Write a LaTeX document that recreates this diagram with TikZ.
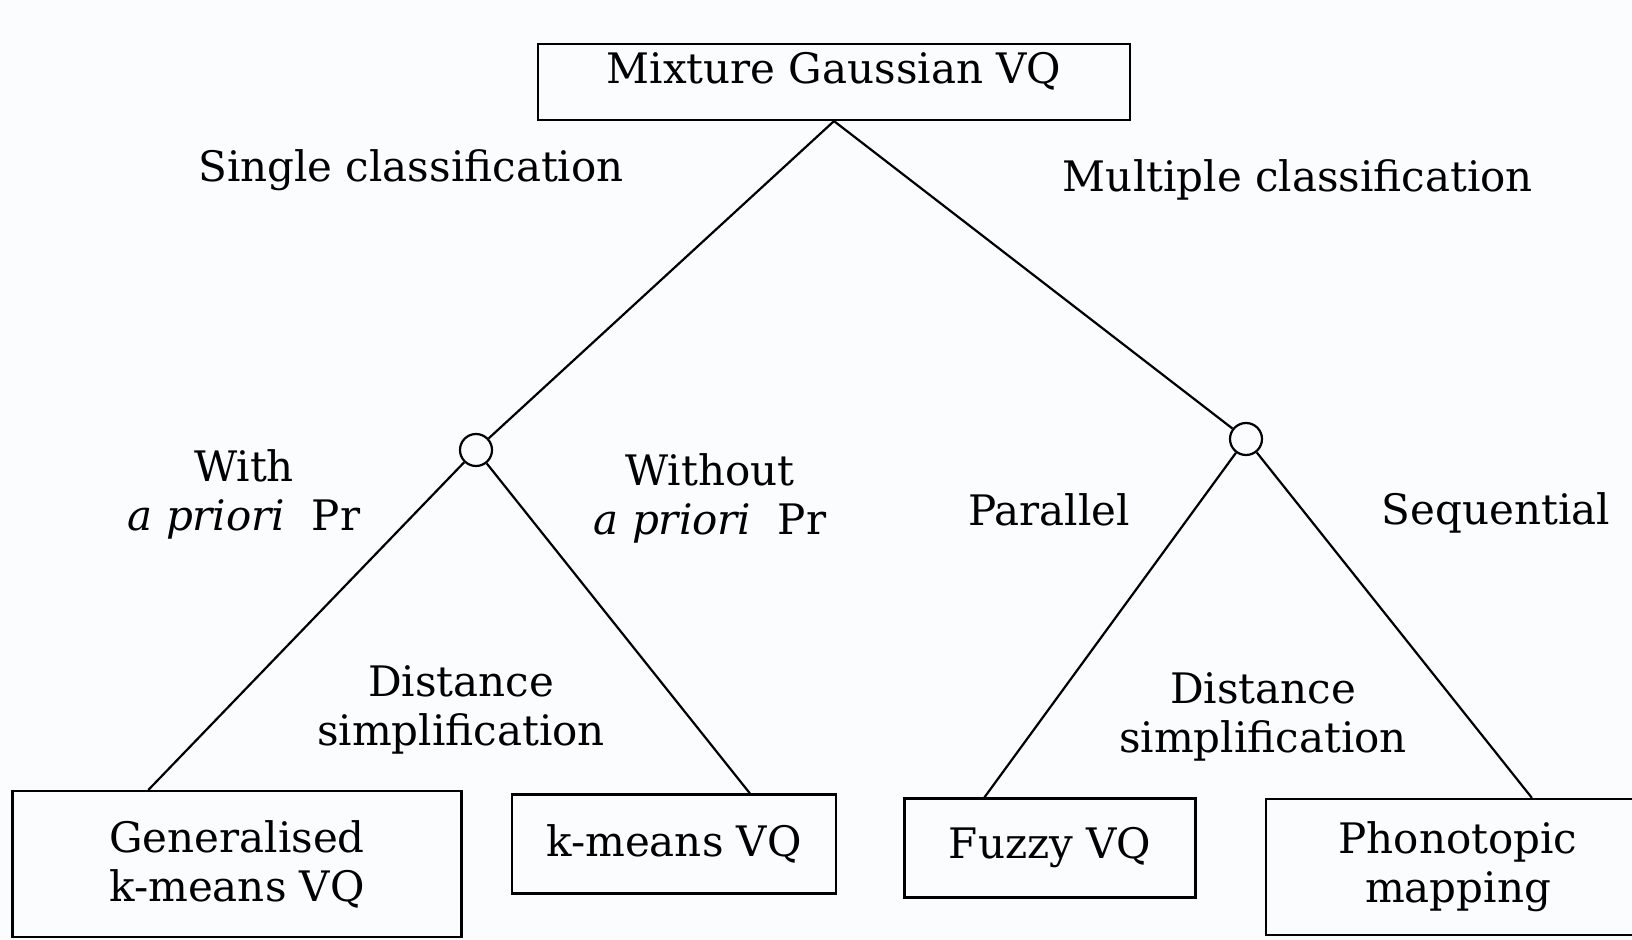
\documentclass[tikz,border=0pt]{standalone}
\usepackage{fontspec}
\setmainfont{DejaVu Serif}

\definecolor{paper}{RGB}{250,252,253}

\begin{document}
\begin{tikzpicture}[x=0.5pt,y=-0.5pt,
	font=\fontsize{21}{24.5}\selectfont,
	box/.style={draw, line width=1.1pt, inner sep=0pt, align=center},
	fork/.style={draw, circle, line width=1.1pt, minimum size=16pt, inner sep=0pt},
	lbl/.style={align=center, inner sep=0pt},
	edge/.style={line width=1.1pt}]
		\fill[paper] (0,0) rectangle (1632,940);
		\useasboundingbox (0,0) rectangle (1632,940);
		% boxes
		\node[box, minimum width=296pt, minimum height=38pt, text depth=14pt] (mix) at (834,82) {Mixture Gaussian VQ};
		\node[box, minimum width=224.5pt, minimum height=73pt] (gen) at (237,864) {Generalised\\k-means VQ};
		\node[box, minimum width=162pt, minimum height=49.5pt] (kmv) at (674,844) {k-means VQ};
		\node[box, minimum width=145.5pt, minimum height=49.5pt] (fuz) at (1050,848) {Fuzzy VQ};
		\node[box, minimum width=192pt, minimum height=68pt] (pho) at (1458,867) {Phonotopic\\mapping};
		% branch points
		\node[fork] (cs) at (476,450) {};
		\node[fork] (cm) at (1246,439) {};
		% edges
		\draw[edge] (mix.south) -- (cs);
		\draw[edge] (mix.south) -- (cm);
		\draw[edge] (cs) -- ([xshift=68.5pt]gen.north west);
		\draw[edge] (cs) -- ([xshift=119.5pt]kmv.north west);
		\draw[edge] (cm) -- ([xshift=40.5pt]fuz.north west);
		\draw[edge] (cm) -- ([xshift=133.5pt]pho.north west);
		% labels
		\node[lbl] (tsingle) at (411,170) {Single classification};
		\node[lbl] (tmulti) at (1298,180) {Multiple classification};
		\node[lbl] (twith) at (244,494) {With\\\textit{a priori}~~Pr};
		\node[lbl] (twithout) at (710,498) {Without\\\textit{a priori}~~Pr};
		\node[lbl] (tpar) at (1049,510) {Parallel};
		\node[lbl] (tseq) at (1496,513) {Sequential};
		\node[lbl] (tdistl) at (461,710) {Distance\\simplification};
		\node[lbl] (tdistr) at (1263,717) {Distance\\simplification};
	\end{tikzpicture}
\end{document}
